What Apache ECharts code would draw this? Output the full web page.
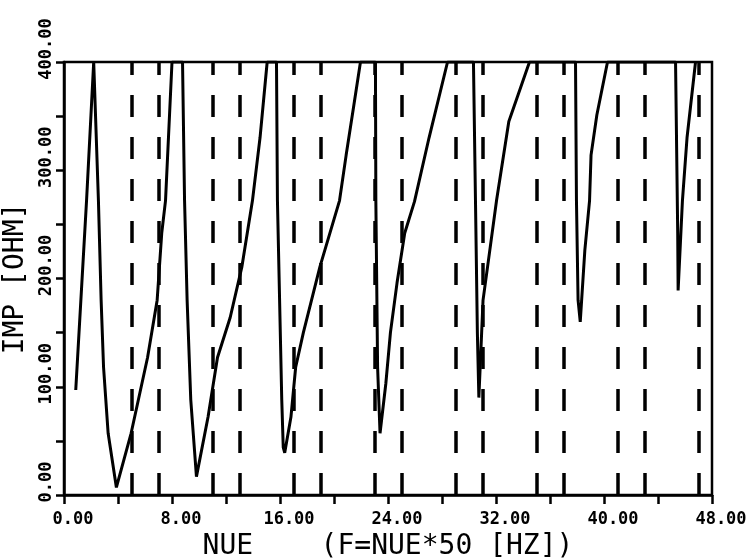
<!DOCTYPE html>
<html>
<head>
<meta charset="utf-8">
<script src="https://cdn.jsdelivr.net/npm/echarts@6/dist/echarts.min.js"></script>
<style>
  html, body { margin: 0; padding: 0; background: #fff; }
  #chart { width: 751px; height: 558px; }
</style>
</head>
<body>
<div id="chart"></div>
<script>
// Harmonic order (NUE) and network impedance magnitude in ohm
const nue = [
  0.87, 1.67, 2.2, 2.55, 2.75, 2.93, 3.27, 3.88, 4.97, 6.19, 6.9, 7.24, 7.52, 8.0,
  8.78, 8.93, 9.12, 9.39, 9.81, 10.67, 11.37, 12.31, 13.18, 13.96, 14.52, 15.05,
  15.74, 15.81, 16.13, 16.24, 16.35, 16.81, 17.16, 17.73, 18.96, 20.41, 20.9, 21.47, 21.96,
  23.07, 23.1, 23.23, 23.41, 23.84, 24.18, 24.67, 25.24, 25.96, 27.04, 28.41,
  30.33, 30.48, 30.62, 30.73, 31.04, 31.54, 32.04, 32.95, 34.48,
  37.89, 37.96, 38.08, 38.24, 38.58, 38.93, 39.04, 39.47, 40.26,
  45.3, 45.46, 45.49, 45.81, 46.15, 46.78
];
const imp = [
  97, 272, 400, 272, 180, 118, 57, 7, 57, 127, 180, 242, 272, 400,
  400, 272, 180, 88, 17, 72, 127, 164, 211, 272, 330, 400,
  400, 272, 88, 44, 39, 72, 118, 150, 211, 272, 314, 360, 400,
  400, 272, 118, 57, 103, 150, 196, 242, 271, 330, 400,
  400, 272, 150, 90, 180, 226, 272, 345, 400,
  400, 272, 180, 160, 226, 272, 314, 351, 400,
  400, 242, 189, 272, 330, 400
];
// Characteristic harmonics (6k +/- 1) marked as dashed verticals
const harmonics = [5, 7, 11, 13, 17, 19, 23, 25, 29, 31, 35, 37, 41, 43, 47];

const xTitle = 'NUE    (F=NUE*50 [HZ])';
const yTitle = 'IMP [OHM]';

const curve = nue.map((v, i) => [v, imp[i]]);

const tickFont = { fontFamily: 'DejaVu Sans Mono', fontWeight: 'bold', fontSize: 17, color: '#000' };
const titleFont = { fontFamily: 'DejaVu Sans Mono', fontWeight: 'normal', fontSize: 28, color: '#000' };

const chart = echarts.init(document.getElementById('chart'), null, { renderer: 'canvas' });
chart.setOption({
  animation: false,
  backgroundColor: '#fff',
  grid: {
    left: 64, right: 39, top: 62, bottom: 63,
    containLabel: false, outerBoundsMode: 'none',
    show: true, borderColor: '#000', borderWidth: 2.5, backgroundColor: 'transparent'
  },
  xAxis: {
    type: 'value', min: 0, max: 48, interval: 4,
    name: xTitle, nameLocation: 'middle', nameGap: 38, nameTextStyle: titleFont,
    axisLine: { show: true, lineStyle: { color: '#000', width: 2.5 } },
    axisTick: { show: true, length: 9, lineStyle: { color: '#000', width: 2.5 } },
    splitLine: { show: false },
    axisLabel: Object.assign({
      margin: 16, padding: [0, 0, 0, 18],
      formatter: v => (v % 8 === 0 ? v.toFixed(2) : '')
    }, tickFont)
  },
  yAxis: {
    type: 'value', min: 0, max: 400, interval: 50,
    name: yTitle, nameLocation: 'middle', nameGap: 28, nameRotate: 90, nameTextStyle: titleFont,
    axisLine: { show: true, lineStyle: { color: '#000', width: 2.5 } },
    axisTick: { show: true, length: 8, lineStyle: { color: '#000', width: 2.5 } },
    splitLine: { show: false },
    axisLabel: Object.assign({
      rotate: 90, margin: 9, padding: [0, 0, 0, 26],
      formatter: v => (v % 100 === 0 ? v.toFixed(2) : '')
    }, tickFont)
  },
  series: [{
    type: 'line',
    data: curve,
    showSymbol: false,
    clip: true,
    lineStyle: { color: '#000', width: 3 },
    markLine: {
      silent: true,
      symbol: ['none', 'none'],
      label: { show: false },
      lineStyle: { color: '#000', width: 3.5, type: [22, 20] },
      data: harmonics.map(h => ({ xAxis: h }))
    }
  }]
});
</script>
</body>
</html>
